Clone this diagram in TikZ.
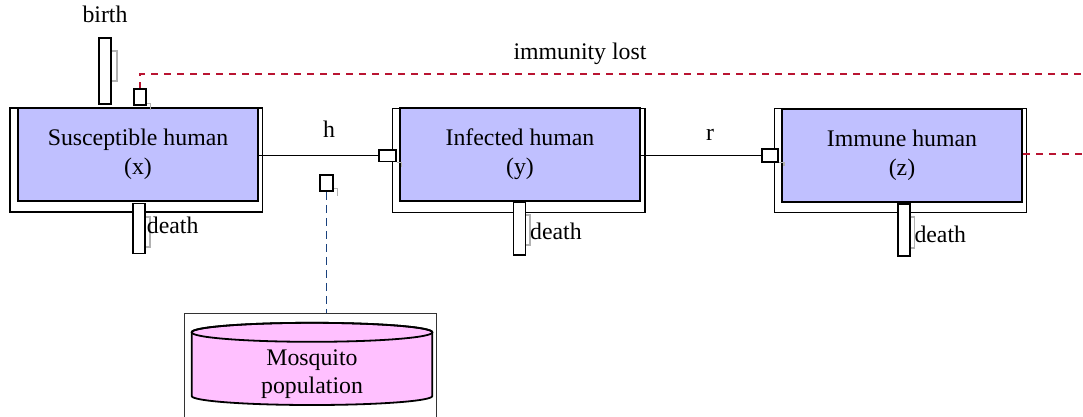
\documentclass[tikz,border=0pt]{standalone}
\usepackage{fontspec}
\setmainfont{Liberation Serif}

\definecolor{stockfill}{RGB}{192,192,255}
\definecolor{mozfill}{RGB}{255,192,255}
\definecolor{lostred}{RGB}{185,20,50}
\definecolor{biteblue}{RGB}{25,65,125}

\begin{document}
\begin{tikzpicture}[
  x=1pt, y=-1pt,
  font=\fontsize{23.8}{29}\selectfont,
  stock/.style={
    rectangle,
    draw=black, line width=2.2pt,
    fill=stockfill,
    minimum width=240.6pt, minimum height=93pt,
    inner sep=0pt,
    align=center,
    execute at begin node=\rule{0pt}{23pt}
  },
  frame/.style={rectangle, draw=black, line width=1.4pt, inner sep=0pt},
  port/.style={rectangle, draw=black, line width=1.6pt, fill=white, inner sep=0pt},
  flowbar/.style={rectangle, draw=black, line width=1.6pt, fill=white,
    inner sep=0pt, minimum width=12pt},
  tick/.style={draw=gray!60, line width=1.8pt},
  link/.style={line width=1.3pt},
  lost/.style={draw=lostred, line width=2pt, dash pattern=on 7pt off 6pt},
  bite/.style={draw=biteblue, line width=1.8pt, dash pattern=on 8pt off 5pt},
  lbl/.style={inner sep=0pt}
]
\useasboundingbox (0,0) rectangle (1083,416);

% outer frames of the three human classes
\node[frame, minimum width=252.5pt, minimum height=104pt] (Sframe) at (136.3,160) {};
\node[frame, minimum width=252.7pt, minimum height=104pt] (Iframe) at (518.7,160.2) {};
\node[frame, minimum width=252.4pt, minimum height=103.6pt] (Zframe) at (900.5,160.5) {};

% the classes themselves
\node[stock] (S) at (138,154.5) {Susceptible human\\(x)};
\node[stock] (I) at (520,154.5) {Infected human\\(y)};
\node[stock] (Z) at (902,155.5) {Immune human\\(z)};

% birth and death flows
\node[flowbar, minimum height=66pt] (Sbirth) at (105.2,70.7) {};
\node[flowbar, minimum height=50pt] (Sdeath) at (139.2,228.3) {};
\node[flowbar, minimum height=53pt] (Ideath) at (519.4,228.4) {};
\node[flowbar, minimum height=52pt] (Zdeath) at (903.7,230) {};

\draw[tick] (Sbirth.east |- 0,51) -- ++(5,0) -- ++(0,30) -- ++(-5,0);
\draw[tick] (Sdeath.east |- 0,217) -- ++(4,0) -- ++(0,30) -- ++(-4,0);
\draw[tick] (Ideath.east |- 0,215) -- ++(4,0) -- ++(0,30) -- ++(-4,0);
\draw[tick] (Zdeath.east |- 0,217) -- ++(4,0) -- ++(0,31) -- ++(-4,0);

\node[lbl] (birthlbl) at (105,14.5) {birth};
\node[lbl, anchor=west] (Sdeathlbl) at (146.7,225.2) {death};
\node[lbl, anchor=west] (Ideathlbl) at (530,231.2) {death};
\node[lbl, anchor=west] (Zdeathlbl) at (914.3,234.5) {death};

% inflow ports
\node[port, minimum width=12pt, minimum height=16pt] (Sport) at (140,97) {};
\node[port, minimum width=17pt, minimum height=11.5pt] (Iport) at (387.5,155.6) {};
\node[port, minimum width=16.5pt, minimum height=12.7pt] (Zport) at (770,155.6) {};
\node[port, minimum width=13pt, minimum height=16pt] (Mport) at (326.5,183) {};

\draw[tick, line width=1.2pt] (Sport.south east) ++(0,-2) -- ++(4,0) -- ++(0,6);
\draw[tick, line width=1.2pt] (Iport.south east) -- ++(5,0) -- ++(0,5);
\draw[tick, line width=1.2pt] (Zport.south east) -- ++(5,0) -- ++(0,3);
\draw[tick, line width=1.2pt] (Mport.south east) ++(0,-3) -- ++(4,0) -- ++(0,7);

% mosquito reservoir
\node[frame, draw=black!80, minimum width=252pt, minimum height=112pt,
  anchor=north west] (Mframe) at (184,312.7) {};
\filldraw[fill=mozfill, draw=black, line width=1.8pt]
  (191.7,332.3) -- (191.7,396)
  arc[start angle=180, end angle=0, x radius=120.3, y radius=9]
  -- (432.3,332.3)
  arc[start angle=360, end angle=180, x radius=120.3, y radius=9.5] -- cycle;
\draw[line width=1.8pt] (312,332.3) ellipse[x radius=120.3, y radius=9.5];
\node[lbl, align=center, font=\fontsize{23.8}{28}\selectfont] (M) at (312,374.2)
  {Mosquito\\population};

% transitions
\node[lbl] (hlbl) at (329,129.5) {h};
\node[lbl] (rlbl) at (710,134.6) {r};
\node[lbl] (lostlbl) at (580,53.8) {immunity lost};

\coordinate (rim) at (1083.8,74);

\draw[link] (S.east |- Iport.west) -- (Iport.west);
\draw[link] (I.east |- Zport.west) -- (Zport.west);
\draw[lost] ([yshift=2pt]Z.east) -| (rim) -| (Sport.north);
\draw[bite] (Mport.south) -- (Mport.south |- Mframe.north);

\end{tikzpicture}
\end{document}
